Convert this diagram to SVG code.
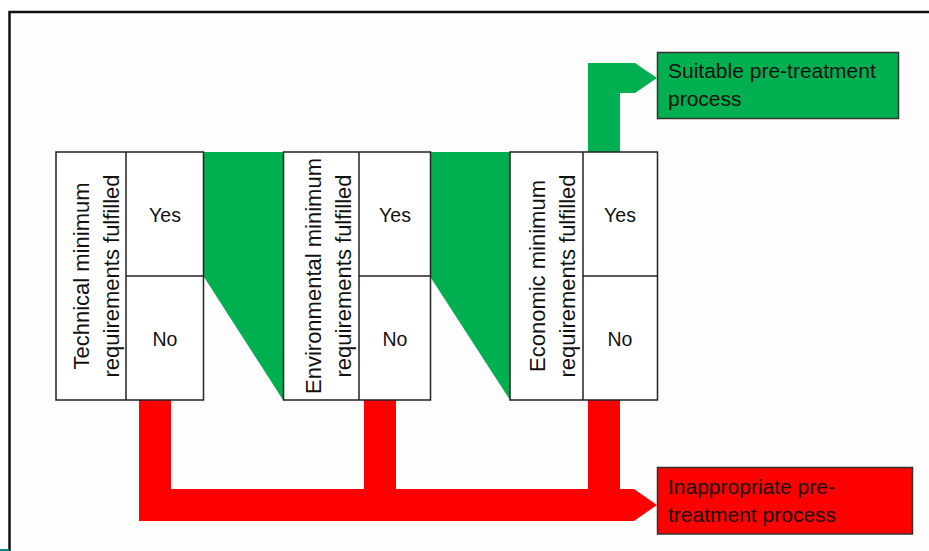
<svg xmlns="http://www.w3.org/2000/svg" width="929" height="551" viewBox="0 0 929 551">
  <style>
    .box { fill: #ffffff; stroke: #222222; stroke-width: 1.5; }
    .ln { stroke: #222222; stroke-width: 1.5; fill: none; }
    .lbl { font-family: "Liberation Sans", Arial, sans-serif; fill: #111111; }
    .yn { font-size: 19.5px; text-anchor: middle; }
    .rot { font-size: 22px; text-anchor: middle; }
    .out { font-size: 21px; }
    .green { fill: #00B050; }
    .red { fill: #FF0000; }
  </style>
  <rect x="0" y="0" width="929" height="551" fill="#ffffff"/>
  <rect x="10" y="13" width="919" height="538" fill="#fdfdfd"/>
  <path d="M9.5,551 V12 H929" fill="none" stroke="#111111" stroke-width="2.5"/>
  <rect x="0" y="549" width="9" height="2" fill="#0a8a8a"/>

  <g id="connectors">
    <polygon class="green" points="204,152 283,152 283,400 204,277"/>
    <polygon class="green" points="431,152 510,152 510,400 431,278"/>
    <path class="green" d="M588,152 V63 H635 L657,78 L635,93 H620 V152 Z"/>
    <path class="red" d="M139,400 V521 H634 L657,505 L634,489 H620 V400 H588 V489 H396 V400 H364 V489 H171 V400 Z"/>
  </g>

  <g id="box-technical">
    <rect class="box" x="56" y="152" width="147.5" height="248"/>
    <line class="ln" x1="126" y1="152" x2="126" y2="400"/>
    <line class="ln" x1="126" y1="276" x2="203.5" y2="276"/>
    <text class="lbl rot" transform="rotate(-90)" x="-276" y="89">Technical minimum</text>
    <text class="lbl rot" transform="rotate(-90)" x="-276" y="119">requirements fulfilled</text>
    <text class="lbl yn" x="165" y="222">Yes</text>
    <text class="lbl yn" x="165" y="346">No</text>
  </g>

  <g id="box-environmental">
    <rect class="box" x="283.5" y="152" width="147" height="248"/>
    <line class="ln" x1="359" y1="152" x2="359" y2="400"/>
    <line class="ln" x1="359" y1="276" x2="430.5" y2="276"/>
    <text class="lbl rot" transform="rotate(-90)" x="-276" y="321">Environmental minimum</text>
    <text class="lbl rot" transform="rotate(-90)" x="-276" y="351">requirements fulfilled</text>
    <text class="lbl yn" x="395" y="222">Yes</text>
    <text class="lbl yn" x="395" y="346">No</text>
  </g>

  <g id="box-economic">
    <rect class="box" x="510" y="152" width="147.5" height="248"/>
    <line class="ln" x1="583" y1="152" x2="583" y2="400"/>
    <line class="ln" x1="583" y1="276" x2="657.5" y2="276"/>
    <text class="lbl rot" transform="rotate(-90)" x="-276" y="545">Economic minimum</text>
    <text class="lbl rot" transform="rotate(-90)" x="-276" y="575">requirements fulfilled</text>
    <text class="lbl yn" x="620" y="222">Yes</text>
    <text class="lbl yn" x="620" y="346">No</text>
  </g>

  <g id="node-suitable">
    <rect x="657.5" y="52.5" width="241" height="66" fill="#00B050" stroke="#333333" stroke-width="1.5"/>
    <text class="lbl out" x="668" y="78">Suitable pre-treatment</text>
    <text class="lbl out" x="668" y="106">process</text>
  </g>

  <g id="node-inappropriate">
    <rect x="657.5" y="467.5" width="255" height="66.5" fill="#FF0000" stroke="#333333" stroke-width="1.5"/>
    <text class="lbl out" x="668" y="494">Inappropriate pre-</text>
    <text class="lbl out" x="668" y="522">treatment process</text>
  </g>
</svg>
